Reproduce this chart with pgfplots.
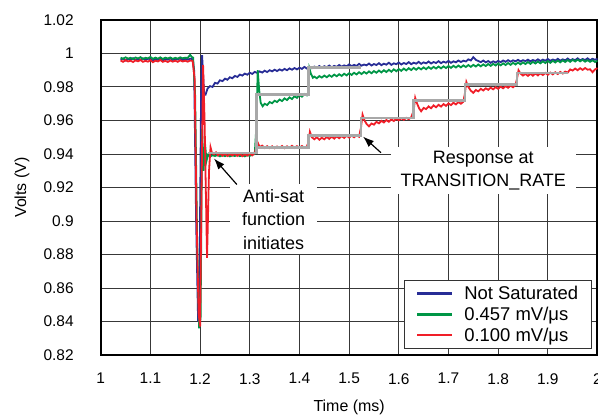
\documentclass[border=0pt]{standalone}
\usepackage{pgfplots}
\pgfplotsset{compat=1.18}
\usepackage{fontspec}
\setmainfont{Liberation Sans}
\usetikzlibrary{arrows.meta}
\definecolor{cblue}{RGB}{40,45,150}
\definecolor{cgreen}{RGB}{0,150,70}
\definecolor{cred}{RGB}{240,30,40}
\definecolor{cgray}{RGB}{168,168,168}
\begin{document}
\begin{tikzpicture}
\begin{axis}[
 scale only axis, width=498pt, height=336pt,
 xmin=1, xmax=2, ymin=0.82, ymax=1.02,
 xtick={1,1.1,1.2,1.3,1.4,1.5,1.6,1.7,1.8,1.9,2},
 ytick={0.82,0.84,0.86,0.88,0.9,0.92,0.94,0.96,0.98,1,1.02},
 grid=major, major grid style={black!78, line width=1pt},
 major tick length=0pt,
 axis line style={line width=2.4pt},
 /pgf/number format/assume math mode=true,
 /pgf/number format/fixed, /pgf/number format/precision=2,
 tick label style={font=\fontsize{15.5}{18}\selectfont, inner sep=0pt},
 yticklabel style={xshift=-27pt},
 xticklabel style={yshift=-18pt},
 xlabel={Time (ms)}, ylabel={Volts (V)},
 label style={font=\fontsize{16}{19}\selectfont},
 xlabel style={at={(axis description cs:0.5,-0.155)}, anchor=center},
 ylabel style={at={(axis description cs:-0.1586,0.5)}, anchor=center},
 legend style={at={(axis description cs:0.988,0.018)}, anchor=south east,
   font=\fontsize{18.5}{21}\selectfont, draw=black!80, line width=0.8pt,
   fill=white, inner xsep=12pt, inner ysep=5pt, row sep=4pt,
   nodes={inner sep=1pt},
   /tikz/every odd column/.append style={column sep=10pt}},
 legend cell align=left,
 legend image code/.code={\draw[#1, line width=2.4pt] (0pt,0pt) -- (35pt,0pt);},
]
\coordinate (SW) at (rel axis cs:0,0);
\coordinate (NE) at (rel axis cs:1,1);
\addplot[cblue, line width=1.8pt] coordinates {
(1.040,.9962)(1.045,.9970)(1.050,.9958)(1.055,.9968)(1.060,.9964)(1.065,.9972)(1.070,.9960)(1.075,.9967)(1.080,.9963)(1.085,.9971)
(1.090,.9961)(1.095,.9969)(1.100,.9965)(1.105,.9958)(1.110,.9968)(1.115,.9962)(1.120,.9970)(1.125,.9960)(1.130,.9966)(1.135,.9963)
(1.140,.9971)(1.145,.9961)(1.150,.9967)(1.155,.9964)(1.160,.9970)(1.165,.9959)(1.170,.9968)(1.175,.9963)(1.180,.9969)(1.185,.9965)
(1.188,.990)(1.192,.900)(1.196,.840)(1.199,.870)(1.202,.975)(1.204,.999)(1.206,.988)(1.208,.976)(1.211,.9755)(1.215,.9790)
(1.220,.9805)(1.225,.9800)(1.230,.9825)(1.235,.9820)(1.240,.9840)(1.245,.9835)(1.250,.9850)(1.255,.9843)(1.260,.9858)(1.265,.9852)
(1.270,.9866)(1.275,.9860)(1.280,.9874)(1.285,.9868)(1.290,.9880)(1.295,.9873)(1.300,.9885)(1.305,.9878)(1.310,.9890)(1.315,.9884)
(1.320,.9893)(1.325,.9886)(1.330,.9897)(1.335,.9889)(1.340,.9900)(1.345,.9893)(1.350,.9903)(1.355,.9895)(1.360,.9905)(1.365,.9898)
(1.370,.9908)(1.375,.9900)(1.380,.9911)(1.385,.9903)(1.390,.9913)(1.395,.9905)(1.400,.9915)(1.405,.9908)(1.410,.9920)(1.415,.9910)
(1.420,.9921)(1.425,.9912)(1.430,.9922)(1.435,.9915)(1.440,.9925)(1.445,.9914)(1.450,.9924)(1.455,.9918)(1.460,.9928)(1.465,.9917)
(1.470,.9926)(1.475,.9920)(1.480,.9931)(1.485,.9921)(1.490,.9929)(1.495,.9923)(1.500,.9935)(1.505,.9924)(1.510,.9932)(1.515,.9926)
(1.520,.9938)(1.525,.9927)(1.530,.9934)(1.535,.9929)(1.540,.9940)(1.545,.9928)(1.550,.9937)(1.555,.9931)(1.560,.9942)(1.565,.9930)
(1.570,.9939)(1.575,.9933)(1.580,.9945)(1.585,.9932)(1.590,.9941)(1.595,.9936)(1.600,.9946)(1.605,.9934)(1.610,.9943)(1.615,.9937)
(1.620,.9948)(1.625,.9936)(1.630,.9945)(1.635,.9939)(1.640,.9950)(1.645,.9938)(1.650,.9947)(1.655,.9941)(1.660,.9952)(1.665,.9940)
(1.670,.9949)(1.675,.9943)(1.680,.9954)(1.685,.9942)(1.690,.9951)(1.695,.9945)(1.700,.9956)(1.705,.9944)(1.710,.9953)(1.715,.9947)
(1.720,.9958)(1.725,.9949)(1.730,.9957)(1.735,.9952)(1.740,.9965)(1.745,.9958)(1.750,.9978)(1.755,.9962)(1.760,.9955)(1.765,.9948)
(1.770,.9958)(1.775,.9947)(1.780,.9955)(1.785,.9944)(1.790,.9953)(1.795,.9946)(1.800,.9956)(1.805,.9948)(1.810,.9958)(1.815,.9950)
(1.820,.9960)(1.825,.9951)(1.830,.9959)(1.835,.9953)(1.840,.9962)(1.845,.9952)(1.850,.9960)(1.855,.9954)(1.860,.9963)(1.865,.9953)
(1.870,.9961)(1.875,.9955)(1.880,.9965)(1.885,.9955)(1.890,.9963)(1.895,.9957)(1.900,.9967)(1.905,.9956)(1.910,.9964)(1.915,.9958)
(1.920,.9968)(1.925,.9957)(1.930,.9965)(1.935,.9959)(1.940,.9970)(1.945,.9958)(1.950,.9966)(1.955,.9960)(1.960,.9971)(1.965,.9959)
(1.970,.9967)(1.975,.9961)(1.980,.9971)(1.985,.9960)(1.990,.9968)(1.995,.9962)(2.000,.9969)
};
\addlegendentry{Not Saturated}
\addplot[cgreen, line width=1.8pt] coordinates {
(1.040,.9975)(1.045,.9968)(1.050,.9977)(1.055,.9969)(1.060,.9974)(1.065,.9966)(1.070,.9976)(1.075,.9970)(1.080,.9978)(1.085,.9967)
(1.090,.9974)(1.095,.9971)(1.100,.9979)(1.105,.9968)(1.110,.9975)(1.115,.9969)(1.120,.9977)(1.125,.9967)(1.130,.9975)(1.135,.9970)
(1.140,.9976)(1.145,.9968)(1.150,.9974)(1.155,.9969)(1.160,.9977)(1.165,.9971)(1.170,.9975)(1.175,.9973)(1.180,.9992)(1.183,.9980)
(1.186,.9975)(1.190,.975)(1.194,.890)(1.198,.836)(1.201,.842)(1.204,.955)(1.207,.930)(1.210,.946)(1.213,.936)(1.216,.9395)
(1.220,.9385)(1.225,.9392)(1.230,.9388)(1.235,.9394)(1.240,.9386)(1.245,.9393)(1.250,.9387)(1.255,.9395)(1.260,.9386)(1.265,.9392)
(1.270,.9388)(1.275,.9396)(1.280,.9387)(1.285,.9393)(1.290,.9386)(1.295,.9394)(1.300,.9389)(1.305,.9396)(1.310,.9400)(1.313,.9550)
(1.316,.9900)(1.319,.9780)(1.322,.9705)(1.326,.9685)(1.330,.9700)(1.335,.9692)(1.340,.9710)(1.345,.9703)(1.350,.9718)(1.355,.9710)
(1.360,.9725)(1.365,.9716)(1.370,.9732)(1.375,.9722)(1.380,.9738)(1.385,.9728)(1.390,.9745)(1.395,.9735)(1.400,.9752)(1.405,.9742)
(1.410,.9758)(1.415,.9750)(1.418,.9770)(1.420,.9910)(1.423,.9880)(1.427,.9855)(1.430,.9862)(1.435,.9852)(1.440,.9865)(1.445,.9856)
(1.450,.9868)(1.455,.9858)(1.460,.9870)(1.465,.9861)(1.470,.9874)(1.475,.9864)(1.480,.9876)(1.485,.9866)(1.490,.9879)(1.495,.9869)
(1.500,.9882)(1.505,.9872)(1.510,.9885)(1.515,.9875)(1.520,.9888)(1.525,.9877)(1.530,.9890)(1.535,.9880)(1.540,.9893)(1.545,.9882)
(1.550,.9895)(1.555,.9885)(1.560,.9898)(1.565,.9887)(1.570,.9900)(1.575,.9889)(1.580,.9903)(1.585,.9891)(1.590,.9905)(1.595,.9894)
(1.600,.9907)(1.605,.9896)(1.610,.9910)(1.615,.9899)(1.620,.9912)(1.625,.9901)(1.630,.9914)(1.635,.9903)(1.640,.9915)(1.645,.9905)
(1.650,.9917)(1.655,.9906)(1.660,.9919)(1.665,.9908)(1.670,.9920)(1.675,.9910)(1.680,.9922)(1.685,.9911)(1.690,.9923)(1.695,.9913)
(1.700,.9925)(1.705,.9914)(1.710,.9926)(1.715,.9916)(1.720,.9928)(1.725,.9917)(1.730,.9929)(1.735,.9919)(1.740,.9931)(1.745,.9920)
(1.750,.9932)(1.755,.9922)(1.760,.9934)(1.765,.9923)(1.770,.9935)(1.775,.9925)(1.780,.9937)(1.785,.9926)(1.790,.9938)(1.795,.9928)
(1.800,.9940)(1.805,.9929)(1.810,.9941)(1.815,.9931)(1.820,.9943)(1.825,.9932)(1.830,.9944)(1.835,.9934)(1.840,.9946)(1.845,.9935)
(1.850,.9947)(1.855,.9937)(1.860,.9949)(1.865,.9938)(1.870,.9950)(1.875,.9940)(1.880,.9952)(1.885,.9941)(1.890,.9953)(1.895,.9943)
(1.900,.9955)(1.905,.9944)(1.910,.9956)(1.915,.9946)(1.920,.9958)(1.925,.9947)(1.930,.9959)(1.935,.9949)(1.940,.9961)(1.945,.9950)
(1.950,.9962)(1.955,.9952)(1.960,.9963)(1.965,.9953)(1.970,.9962)(1.975,.9951)(1.980,.9960)(1.985,.9950)(1.990,.9959)(1.995,.9949)
(2.000,.9957)
};
\addlegendentry{0.457 mV/μs}
\addplot[cred, line width=1.8pt] coordinates {
(1.040,.9958)(1.045,.9950)(1.050,.9960)(1.055,.9952)(1.060,.9957)(1.065,.9949)(1.070,.9959)(1.075,.9953)(1.080,.9961)(1.085,.9950)
(1.090,.9956)(1.095,.9951)(1.100,.9960)(1.105,.9948)(1.110,.9957)(1.115,.9952)(1.120,.9961)(1.125,.9950)(1.130,.9956)(1.135,.9949)
(1.140,.9958)(1.145,.9951)(1.150,.9957)(1.155,.9950)(1.160,.9959)(1.165,.9952)(1.170,.9957)(1.175,.9951)(1.180,.9958)(1.185,.9955)
(1.189,.985)(1.193,.900)(1.197,.845)(1.200,.837)(1.203,.920)(1.206,.993)(1.209,.960)(1.214,.878)(1.218,.930)(1.221,.9440)
(1.224,.9405)(1.228,.9398)(1.232,.9410)(1.236,.9392)(1.240,.9405)(1.245,.9390)(1.250,.9402)(1.255,.9388)(1.260,.9400)(1.265,.9391)
(1.270,.9404)(1.275,.9389)(1.280,.9401)(1.285,.9387)(1.290,.9399)(1.295,.9390)(1.300,.9403)(1.305,.9392)(1.310,.9405)(1.313,.9440)
(1.316,.9468)(1.320,.9442)(1.325,.9450)(1.330,.9436)(1.335,.9447)(1.340,.9435)(1.345,.9446)(1.350,.9434)(1.355,.9445)(1.360,.9436)
(1.365,.9448)(1.370,.9435)(1.375,.9446)(1.380,.9437)(1.385,.9449)(1.390,.9436)(1.395,.9447)(1.400,.9438)(1.405,.9448)(1.410,.9437)
(1.415,.9445)(1.418,.9470)(1.421,.9533)(1.425,.9500)(1.430,.9488)(1.435,.9500)(1.440,.9485)(1.445,.9497)(1.450,.9488)(1.455,.9502)
(1.460,.9490)(1.465,.9504)(1.470,.9492)(1.475,.9505)(1.480,.9494)(1.485,.9507)(1.490,.9496)(1.495,.9509)(1.500,.9498)(1.505,.9510)
(1.510,.9500)(1.515,.9512)(1.520,.9503)(1.524,.9560)(1.527,.9635)(1.531,.9600)(1.535,.9580)(1.540,.9565)(1.545,.9582)(1.550,.9575)
(1.555,.9592)(1.560,.9583)(1.565,.9598)(1.570,.9588)(1.575,.9603)(1.580,.9592)(1.585,.9607)(1.590,.9597)(1.595,.9610)(1.600,.9601)
(1.605,.9614)(1.610,.9604)(1.615,.9616)(1.620,.9608)(1.625,.9619)(1.630,.9660)(1.633,.9736)(1.637,.9700)(1.641,.9672)(1.645,.9655)
(1.650,.9675)(1.655,.9668)(1.660,.9684)(1.665,.9673)(1.670,.9690)(1.675,.9679)(1.680,.9694)(1.685,.9683)(1.690,.9698)(1.695,.9687)
(1.700,.9702)(1.705,.9692)(1.710,.9706)(1.715,.9696)(1.720,.9710)(1.725,.9700)(1.730,.9712)(1.733,.9760)(1.736,.9830)(1.740,.9800)
(1.745,.9778)(1.750,.9765)(1.755,.9782)(1.760,.9774)(1.765,.9789)(1.770,.9779)(1.775,.9792)(1.780,.9783)(1.785,.9796)(1.790,.9786)
(1.795,.9799)(1.800,.9789)(1.805,.9802)(1.810,.9792)(1.815,.9805)(1.820,.9795)(1.825,.9808)(1.830,.9798)(1.835,.9812)(1.838,.9850)
(1.841,.9900)(1.845,.9880)(1.850,.9868)(1.855,.9878)(1.860,.9866)(1.865,.9879)(1.870,.9867)(1.875,.9881)(1.880,.9869)(1.885,.9882)
(1.890,.9871)(1.895,.9884)(1.900,.9873)(1.905,.9886)(1.910,.9875)(1.915,.9888)(1.920,.9877)(1.925,.9890)(1.930,.9880)(1.935,.9892)
(1.940,.9886)(1.945,.9905)(1.950,.9898)(1.955,.9910)(1.960,.9900)(1.965,.9912)(1.970,.9902)(1.975,.9913)(1.980,.9903)(1.985,.9906)
(1.990,.9888)(1.995,.9905)(2.000,.9912)
};
\addlegendentry{0.100 mV/μs}
\addplot[cgray, line width=2.6pt, forget plot] coordinates {
(1.215,.9405)(1.313,.9405)(1.313,.9440)(1.418,.9440)(1.418,.9510)(1.524,.9510)(1.524,.9615)(1.630,.9615)
(1.630,.9720)(1.733,.9720)(1.733,.9815)(1.838,.9815)(1.838,.9883)(1.940,.9883)
};
\addplot[cgray, line width=2.6pt, forget plot] coordinates {
(1.313,.9405)(1.313,.9755)(1.418,.9755)(1.418,.9915)(1.524,.9915)
};
\node[fill=white, align=center, font=\fontsize{18}{23.5}\selectfont, inner xsep=12pt, inner ysep=5pt]
  at (axis cs:1.348,0.901) {Anti-sat\\function\\initiates};
\node[fill=white, align=center, font=\fontsize{18}{23}\selectfont, inner xsep=10pt, inner ysep=4pt]
  at (axis cs:1.77,0.930) {Response at\\TRANSITION\_RATE};
\draw[line width=1.2pt, -{Latex[length=11pt,width=8pt]}] (axis cs:1.274,0.9218) -- (axis cs:1.228,0.9373);
\draw[line width=1.2pt, -{Latex[length=11pt,width=8pt]}] (axis cs:1.564,0.9408) -- (axis cs:1.528,0.9504);
\end{axis}
\pgfresetboundingbox
\path ([xshift=-101pt,yshift=-63pt]SW) rectangle ([xshift=0.5pt,yshift=20pt]NE);
\end{tikzpicture}
\end{document}
